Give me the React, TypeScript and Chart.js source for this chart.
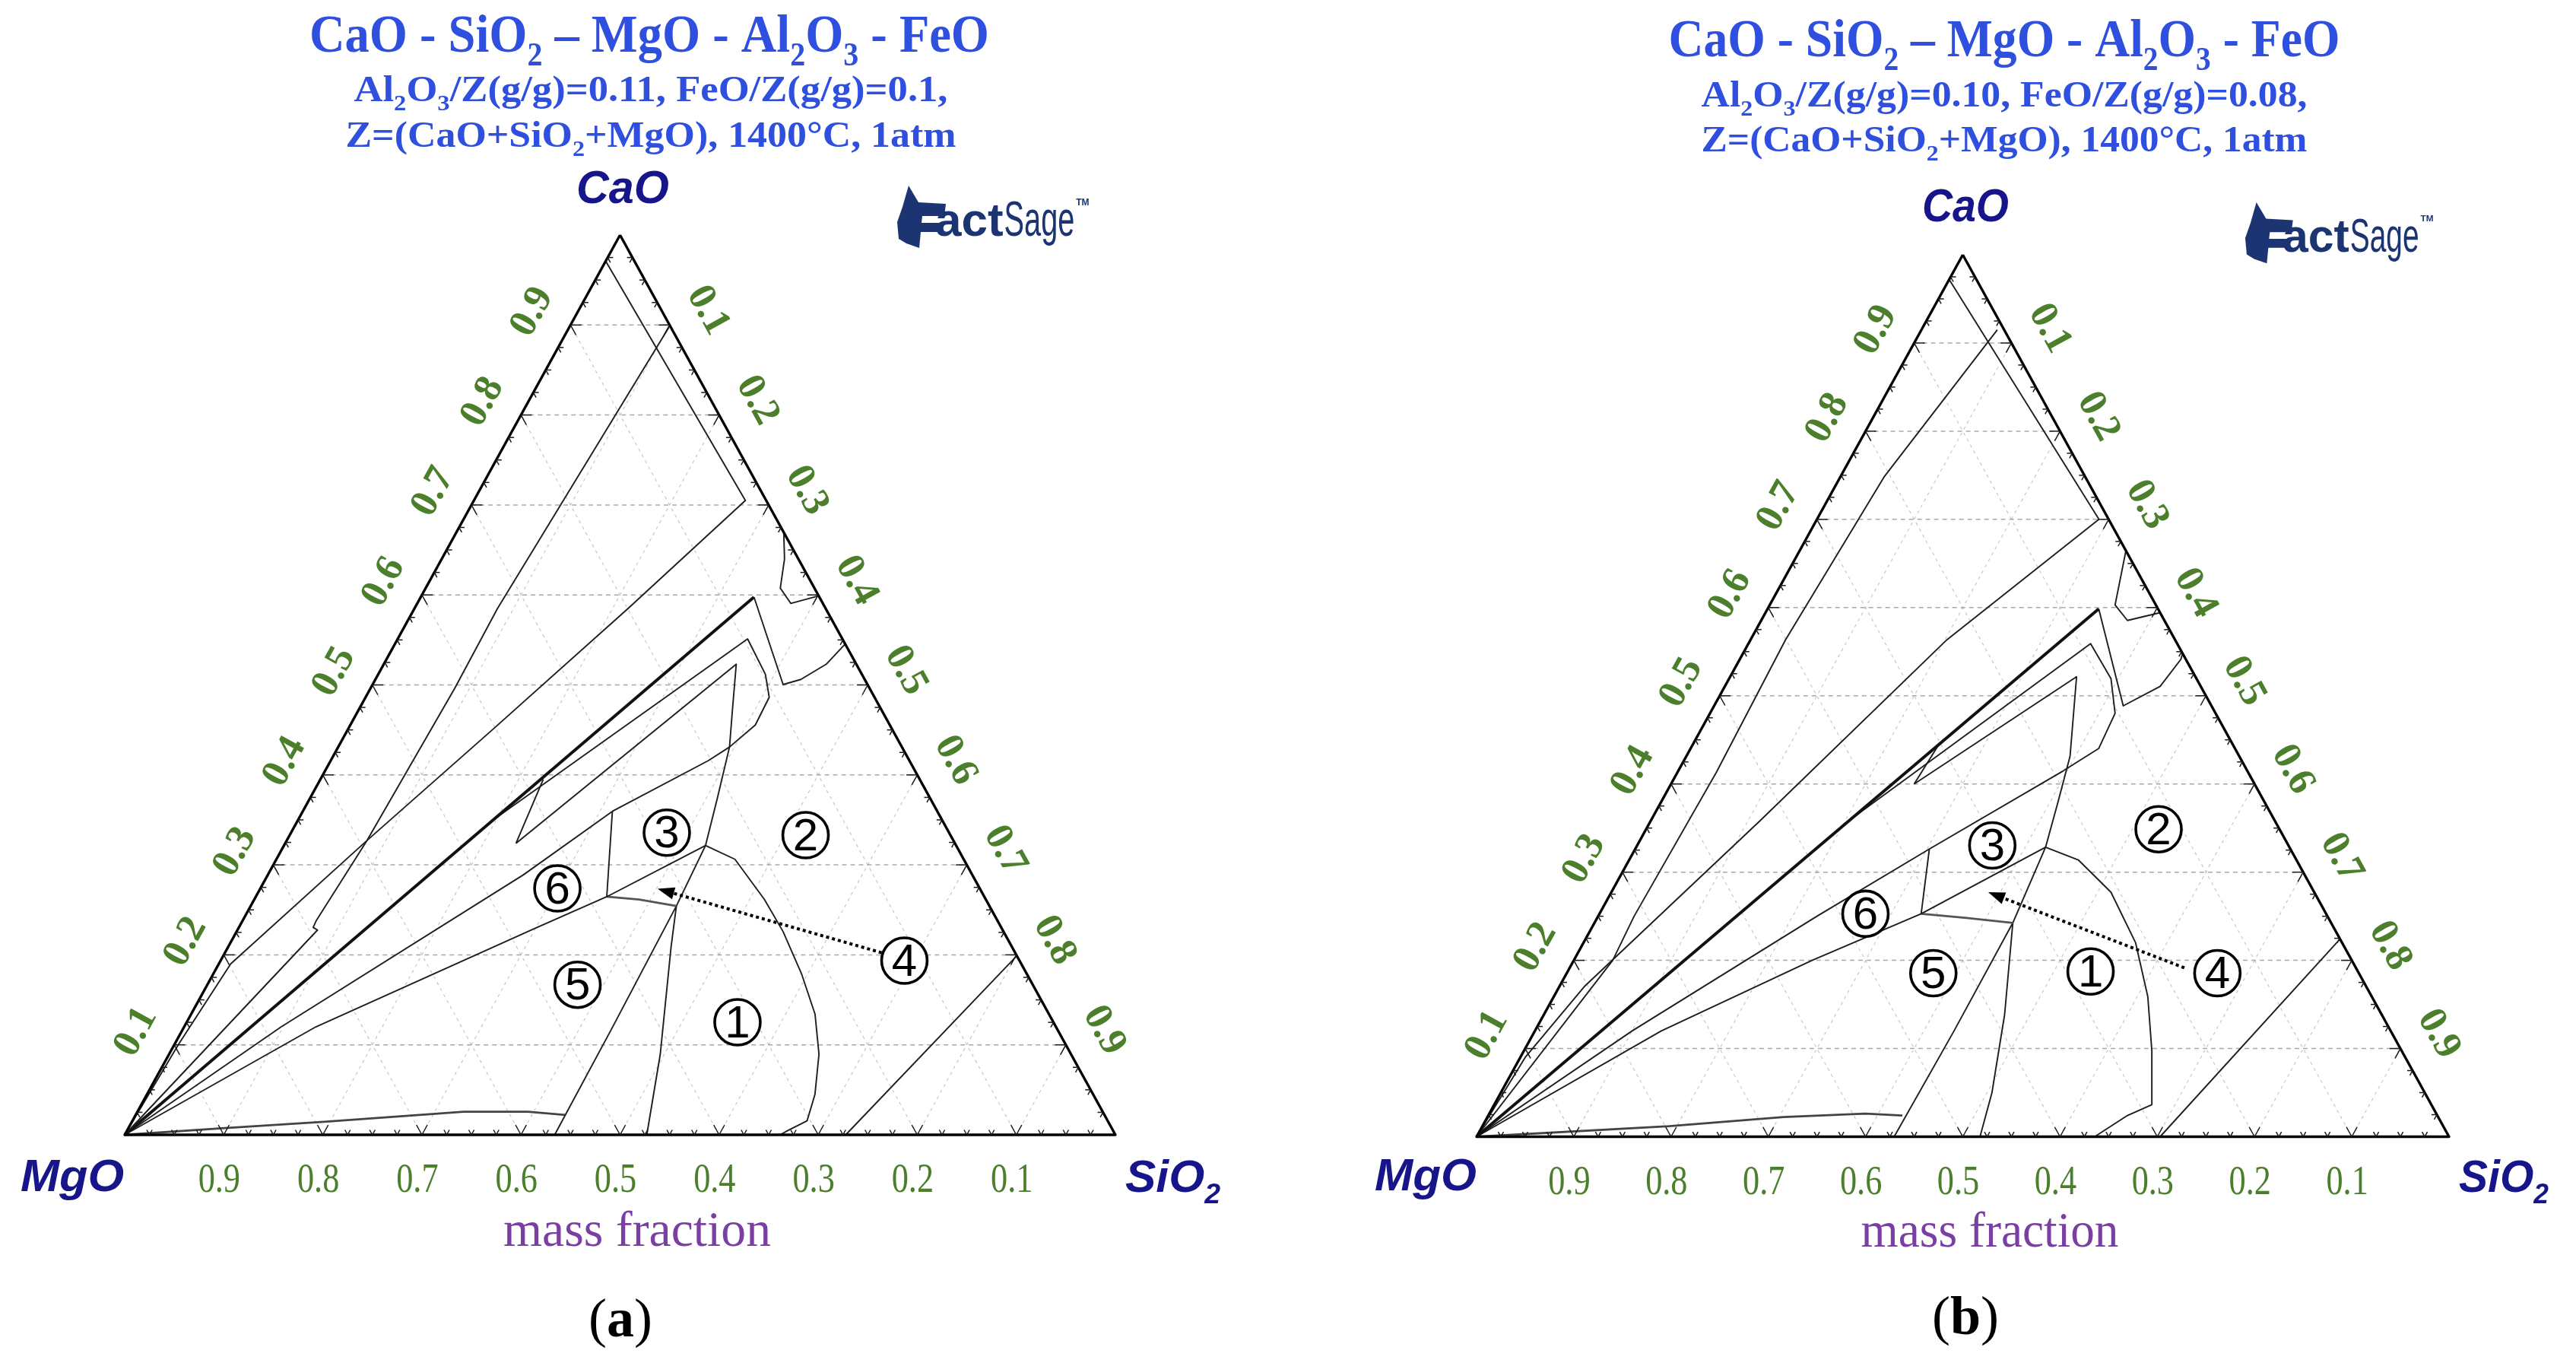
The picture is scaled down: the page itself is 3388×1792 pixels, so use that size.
import React, { useEffect, useRef } from "react";
import { Chart, registerables } from "chart.js";

Chart.register(...registerables);

type P = [number, number]; // [CaO mass fraction, SiO2 mass fraction]

const W = 3388;
const H = 1792;
const HALF = 1694;

const AXIS_TICKS: number[] = [0.1, 0.2, 0.3, 0.4, 0.5, 0.6, 0.7, 0.8, 0.9];
const AXIS_TICK_LABELS: string[] = ["0.1", "0.2", "0.3", "0.4", "0.5", "0.6", "0.7", "0.8", "0.9"];
const REGION_NAMES: string[] = ["1", "2", "3", "4", "5", "6"];

// ---------------- panel (a) ----------------
const A_L1: P[] = [[0.971, 0.0], [0.705, 0.274], [0.585, 0.2156], [0.45, 0.146], [0.327, 0.081], [0.19, 0.012], [0.1, 0.004], [0, 0]];
const A_L2: P[] = [[0.8977, 0.1006], [0.585, 0.0838], [0.496, 0.085], [0.327, 0.081], [0.238, 0.0743], [0.2305, 0.075], [0.2276, 0.0808], [0, 0]];
const A_THICK: P[] = [[0, 0], [0.5976, 0.3364]];
const A_OUTER: P[] = [[0.5976, 0.3364], [0.5004, 0.4144], [0.5061, 0.4295], [0.523, 0.4466], [0.5441, 0.454], [0.547, 0.453]];
const A_SMALL: P[] = [[0.6695, 0.3305], [0.64, 0.346], [0.6075, 0.358], [0.5906, 0.377], [0.599, 0.401]];
const A_MID: P[] = [[0.35, 0.197], [0.5511, 0.3532], [0.5117, 0.3909], [0.4863, 0.4074], [0.4554, 0.4088], [0.431, 0.395]];
const A_INNER: P[] = [[0.324, 0.233], [0.523, 0.3558], [0.4723, 0.3773], [0.431, 0.395], [0.3736, 0.4113], [0.3216, 0.4255]];
const A_SLIVER: P[] = [[0.395, 0.225], [0.324, 0.233]];
const A_R1: P[] = [[0, 0], [0.12, 0.098], [0.289, 0.258], [0.3595, 0.3125], [0.4159, 0.3812], [0.431, 0.395]];
const A_VERT: P[] = [[0.3595, 0.3125], [0.2646, 0.3543]];
const A_R3: P[] = [[0, 0], [0.12, 0.133], [0.2282, 0.2973], [0.2646, 0.3543], [0.3216, 0.4255]];
const A_SHORT: P[] = [[0.2646, 0.3543], [0.2616, 0.3883], [0.2543, 0.4297]];
const A_STA: P[] = [[0.3216, 0.4255], [0.2543, 0.4297], [0.1193, 0.4326], [0, 0.434]];
const A_STB: P[] = [[0.2543, 0.4297], [0.2083, 0.4473], [0.0896, 0.4958], [0, 0.527]];
const A_CURVE: P[] = [[0.3216, 0.4255], [0.3062, 0.4629], [0.2616, 0.5149], [0.226, 0.5515], [0.1786, 0.594], [0.1342, 0.6297], [0.0896, 0.656], [0.0451, 0.6742], [0.0155, 0.681], [0.0045, 0.6667], [0, 0.6616]];
const A_RB: P[] = [[0.199, 0.801], [0, 0.7278]];
const A_BASE: P[] = [[0, 0], [0.0073, 0.0946], [0.0144, 0.194], [0.0214, 0.2786], [0.0256, 0.3295], [0.0256, 0.394], [0.022, 0.4338]];
const A_LABELS: P[] = [[0.1251, 0.556], [0.333, 0.5208], [0.3358, 0.3793], [0.1936, 0.6902], [0.1668, 0.3737], [0.2739, 0.2998]];
const A_ARROW: P[] = [[0.2024, 0.6629], [0.2735, 0.4012]];

// ---------------- panel (b) ----------------
const B_L1: P[] = [[0.972, 0.0], [0.7, 0.29], [0.5637, 0.202], [0.3575, 0.112], [0.171, 0.026], [0.09, 0.005], [0, 0]];
const B_L2: P[] = [[0.915, 0.078], [0.748, 0.045], [0.5636, 0.036], [0.4131, 0.04], [0.25, 0.037], [0.2, 0.04], [0, 0]];
const B_THICK: P[] = [[0, 0], [0.5986, 0.3405]];
const B_OUTER: P[] = [[0.5986, 0.3405], [0.4886, 0.4207], [0.5107, 0.4476], [0.5414, 0.4536], [0.548, 0.452]];
const B_SMALL: P[] = [[0.6645, 0.3355], [0.603, 0.3551], [0.5854, 0.3766], [0.5942, 0.4058]];
const B_MID: P[] = [[0.36, 0.205], [0.559, 0.3519], [0.5194, 0.3927], [0.48, 0.4166], [0.4403, 0.4197], [0.415, 0.396]];
const B_INNER: P[] = [[0.4, 0.25], [0.5216, 0.3562], [0.4314, 0.3946], [0.38, 0.408], [0.3282, 0.421]];
const B_SLIVER: P[] = [[0.445, 0.253], [0.4, 0.25]];
const B_R1: P[] = [[0, 0], [0.12, 0.1], [0.25, 0.225], [0.3262, 0.3025], [0.415, 0.396]];
const B_VERT: P[] = [[0.3262, 0.3025], [0.2528, 0.3308]];
const B_R3: P[] = [[0, 0], [0.12, 0.13], [0.2, 0.245], [0.2528, 0.3308], [0.3282, 0.421]];
const B_SHORT: P[] = [[0.2528, 0.3308], [0.248, 0.38], [0.2425, 0.4302]];
const B_STA: P[] = [[0.3282, 0.421], [0.2425, 0.4302], [0.12, 0.431], [0, 0.4294]];
const B_STB: P[] = [[0.2425, 0.4302], [0.1384, 0.4738], [0.05, 0.505], [0, 0.5177]];
const B_CURVE: P[] = [[0.3282, 0.421], [0.3139, 0.4618], [0.2773, 0.5137], [0.2201, 0.5676], [0.1589, 0.6108], [0.0976, 0.6456], [0.0364, 0.6762], [0.0241, 0.6573], [0, 0.6356]];
const B_RB: P[] = [[0.2242, 0.7758], [0, 0.7029]];
const B_BASE: P[] = [[0, 0], [0.012, 0.192], [0.0223, 0.3046], [0.0262, 0.3868], [0.0241, 0.4258]];
const B_LABELS: P[] = [[0.1874, 0.5377], [0.3487, 0.527], [0.3303, 0.3652], [0.1854, 0.6691], [0.1854, 0.377], [0.2528, 0.2735]];
const B_ARROW: P[] = [[0.1915, 0.6321], [0.2772, 0.3876]];

// ---------------- text ----------------
type Seg = [string, boolean?];
const TITLE1: Seg[] = [["CaO - SiO"], ["2", true], [" \u2013 MgO - Al"], ["2", true], ["O"], ["3", true], [" - FeO"]];
const A_TITLE2: Seg[] = [["Al"], ["2", true], ["O"], ["3", true], ["/Z(g/g)=0.11, FeO/Z(g/g)=0.1,"]];
const B_TITLE2: Seg[] = [["Al"], ["2", true], ["O"], ["3", true], ["/Z(g/g)=0.10, FeO/Z(g/g)=0.08,"]];
const TITLE3: Seg[] = [["Z=(CaO+SiO"], ["2", true], ["+MgO), 1400\u00b0C, 1atm"]];
const CAO: Seg[] = [["CaO"]];
const MGO: Seg[] = [["MgO"]];
const SIO2: Seg[] = [["SiO"], ["2", true]];
const MASS: Seg[] = [["mass fraction"]];

const BLUE = "#2f4fdf";
const NAVY = "#16168a";
const GREEN = "#4b7f2b";
const PURPLE = "#7b3fa4";

const serifB = (sz: number) => `bold ${sz}px "Liberation Serif", serif`;
const serifN = (sz: number) => `${sz}px "Liberation Serif", serif`;
const sansBI = (sz: number) => `italic bold ${sz}px "Liberation Sans", sans-serif`;

interface LineDef { pts: P[]; w: number; color: string; }
interface Box { x: number; y: number; w: number; }
interface PanelCfg {
  tag: string;
  canvasLeft: number;
  mgoX: number; sio2X: number; apexY: number; baseY: number;
  lines: LineDef[];
  labels: P[];
  arrow: P[];
  title2: Seg[];
  t1: Box; t2: Box; t3: Box; cao: Box; mgo: Box; sio2: Box; mass: Box; tagPos: Box;
  logo: { x: number; y: number; s: number };
}

const thin = (pts: P[]): LineDef => ({ pts, w: 1.9, color: "#1e1e1e" });

const PANEL_A: PanelCfg = {
  tag: "a", canvasLeft: 0,
  mgoX: 164, sio2X: 1467, apexY: 309, baseY: 1492,
  lines: [
    thin(A_L1), thin(A_L2), { pts: A_THICK, w: 4, color: "#111" }, thin(A_OUTER), thin(A_SMALL), thin(A_MID),
    thin(A_INNER), thin(A_SLIVER), thin(A_R1), thin(A_VERT), thin(A_R3), { pts: A_SHORT, w: 2.8, color: "#555" },
    thin(A_STA), thin(A_STB), thin(A_CURVE), thin(A_RB), { pts: A_BASE, w: 2.8, color: "#444" },
  ],
  labels: A_LABELS, arrow: A_ARROW, title2: A_TITLE2,
  t1: { x: 854, y: 68, w: 894 }, t2: { x: 856, y: 133, w: 781 }, t3: { x: 856, y: 193, w: 803 },
  cao: { x: 819, y: 267, w: 122 }, mgo: { x: 95, y: 1566, w: 136 }, sio2: { x: 1480, y: 1567, w: 125 },
  mass: { x: 838, y: 1638, w: 352 }, tagPos: { x: 816, y: 1757, w: 92 },
  logo: { x: 1178, y: 242, s: 1 },
};

const PANEL_B: PanelCfg = {
  tag: "b", canvasLeft: HALF,
  mgoX: 1942, sio2X: 3221, apexY: 335, baseY: 1494.5,
  lines: [
    thin(B_L1), thin(B_L2), { pts: B_THICK, w: 4, color: "#111" }, thin(B_OUTER), thin(B_SMALL), thin(B_MID),
    thin(B_INNER), thin(B_SLIVER), thin(B_R1), thin(B_VERT), thin(B_R3), { pts: B_SHORT, w: 2.8, color: "#555" },
    thin(B_STA), thin(B_STB), thin(B_CURVE), thin(B_RB), { pts: B_BASE, w: 2.8, color: "#444" },
  ],
  labels: B_LABELS, arrow: B_ARROW, title2: B_TITLE2,
  t1: { x: 2636, y: 74, w: 883 }, t2: { x: 2636, y: 140, w: 797 }, t3: { x: 2636, y: 199, w: 797 },
  cao: { x: 2585, y: 291, w: 114 }, mgo: { x: 1875, y: 1565, w: 134 }, sio2: { x: 3234, y: 1567, w: 118 },
  mass: { x: 2617, y: 1639, w: 339 }, tagPos: { x: 2585, y: 1754, w: 100 },
  logo: { x: 2951, y: 264, s: 0.98 },
};

function drawRich(ctx: CanvasRenderingContext2D, segs: Seg[], x: number, y: number, size: number,
  font: (sz: number) => string, color: string, targetW: number | null, align: "center" | "left") {
  ctx.save();
  ctx.fillStyle = color;
  ctx.textBaseline = "alphabetic";
  ctx.textAlign = "left";
  const ws: number[] = [];
  let w = 0;
  for (const [t, sub] of segs) {
    ctx.font = font(sub ? size * 0.62 : size);
    const m = ctx.measureText(t).width;
    ws.push(m);
    w += m;
  }
  const sx = targetW ? targetW / w : 1;
  ctx.translate(x, y);
  ctx.scale(sx, 1);
  let cx = align === "center" ? -w / 2 : 0;
  segs.forEach(([t, sub], i) => {
    ctx.font = font(sub ? size * 0.62 : size);
    ctx.fillText(t, cx, sub ? size * 0.25 : 0);
    cx += ws[i];
  });
  ctx.restore();
}

function drawLogo(ctx: CanvasRenderingContext2D, x: number, y: number, s: number) {
  ctx.save();
  ctx.translate(x, y);
  ctx.scale(s, s);
  ctx.fillStyle = "#1c3572";
  ctx.beginPath();
  ctx.moveTo(4, 72); ctx.lineTo(2, 50); ctx.lineTo(9, 30); ctx.lineTo(17, 2); ctx.lineTo(30, 24);
  ctx.lineTo(66, 26); ctx.lineTo(64, 42); ctx.lineTo(35, 42); ctx.lineTo(34, 51); ctx.lineTo(58, 51);
  ctx.lineTo(56, 63); ctx.lineTo(33, 63); ctx.lineTo(31, 84); ctx.lineTo(14, 78);
  ctx.closePath();
  ctx.fill();
  ctx.textBaseline = "alphabetic";
  ctx.textAlign = "left";
  ctx.font = 'bold 62px "Liberation Sans", sans-serif';
  ctx.fillText("act", 52, 68);
  const wAct = ctx.measureText("act").width;
  ctx.save();
  ctx.translate(52 + wAct + 1, 68);
  ctx.scale(0.62, 1);
  ctx.font = '64px "Liberation Sans", sans-serif';
  ctx.fillText("Sage", 0, 0);
  const wS = ctx.measureText("Sage").width * 0.62;
  ctx.restore();
  ctx.font = 'bold 12px "Liberation Sans", sans-serif';
  ctx.fillText("TM", 52 + wAct + wS + 3, 28);
  ctx.restore();
}

function buildDatasets(cfg: PanelCfg) {
  const ds: any[] = [];
  const toXY = (p: P) => ({ x: p[1] + p[0] / 2, y: p[0] });
  const add = (pts: P[], color: string, w: number, dash: number[], order: number) =>
    ds.push({
      data: pts.map(toXY), showLine: true, borderColor: color, borderWidth: w, borderDash: dash,
      pointRadius: 0, pointHoverRadius: 0, fill: false, tension: 0, clip: false, order,
      borderJoinStyle: "round", borderCapStyle: "butt",
    });
  for (const v of AXIS_TICKS) {
    add([[v, 0], [v, 1 - v]], "rgba(140,140,140,0.75)", 1.5, [6, 5], 3);
    add([[0, v], [1 - v, v]], "rgba(160,160,160,0.6)", 1.2, [4, 5], 3);
    add([[0, 1 - v], [1 - v, 0]], "rgba(160,160,160,0.6)", 1.2, [4, 5], 3);
  }
  cfg.lines.forEach((l) => add(l.pts, l.color, l.w, [], 2));
  add([[1, 0], [0, 0], [0, 1], [1, 0]], "#000", 3.4, [], 1);
  return ds;
}

function makeDeco(cfg: PanelCfg) {
  return {
    id: "deco_" + cfg.tag,
    afterDatasetsDraw(chart: any) {
      const ctx: CanvasRenderingContext2D = chart.ctx;
      const xs = chart.scales.x;
      const ys = chart.scales.y;
      const pt = (c: number, s: number): [number, number] => [xs.getPixelForValue(s + c / 2), ys.getPixelForValue(c)];
      // edge ticks
      ctx.save();
      ctx.strokeStyle = "#1a1a1a";
      ctx.lineWidth = 1.5;
      const seg = (c: number, s: number, dc: number, dd: number) => {
        const a = pt(c, s);
        const b = pt(c + dc, s + dd);
        ctx.beginPath();
        ctx.moveTo(a[0], a[1]);
        ctx.lineTo(b[0], b[1]);
        ctx.stroke();
      };
      for (let k = 1; k < 40; k++) {
        const t = k / 40;
        const L = k % 4 === 0 ? 0.011 : 0.0055;
        seg(0, t, L, 0); seg(0, t, L, -L);
        seg(t, 0, 0, L); seg(t, 0, -L, L);
        seg(t, 1 - t, 0, -L); seg(t, 1 - t, -L, 0);
      }
      ctx.restore();
      // arrow
      const [tx, ty] = pt(cfg.arrow[0][0], cfg.arrow[0][1]);
      const [hx, hy] = pt(cfg.arrow[1][0], cfg.arrow[1][1]);
      const ang = Math.atan2(hy - ty, hx - tx);
      const hl = 22, hw = 8;
      const bx = hx - hl * Math.cos(ang), by = hy - hl * Math.sin(ang);
      ctx.save();
      ctx.strokeStyle = "#000";
      ctx.lineWidth = 4;
      ctx.setLineDash([4, 4]);
      ctx.beginPath();
      ctx.moveTo(tx, ty);
      ctx.lineTo(bx, by);
      ctx.stroke();
      ctx.setLineDash([]);
      ctx.fillStyle = "#000";
      ctx.beginPath();
      ctx.moveTo(hx, hy);
      ctx.lineTo(bx + hw * Math.sin(ang), by - hw * Math.cos(ang));
      ctx.lineTo(bx - hw * Math.sin(ang), by + hw * Math.cos(ang));
      ctx.closePath();
      ctx.fill();
      ctx.restore();
      // circled region numbers
      ctx.save();
      cfg.labels.forEach((p, i) => {
        const [x, y] = pt(p[0], p[1]);
        ctx.beginPath();
        ctx.arc(x, y, 30, 0, Math.PI * 2);
        ctx.fillStyle = "#fff";
        ctx.fill();
        ctx.lineWidth = 3.6;
        ctx.strokeStyle = "#000";
        ctx.stroke();
        ctx.fillStyle = "#000";
        ctx.font = '60px "Liberation Sans", sans-serif';
        ctx.textAlign = "center";
        ctx.textBaseline = "middle";
        ctx.fillText(REGION_NAMES[i], x, y + 3);
      });
      ctx.restore();
    },
    afterDraw(chart: any) {
      const ctx: CanvasRenderingContext2D = chart.ctx;
      const xs = chart.scales.x;
      const ys = chart.scales.y;
      const pt = (c: number, s: number): [number, number] => [xs.getPixelForValue(s + c / 2), ys.getPixelForValue(c)];
      const L = cfg.canvasLeft;
      drawRich(ctx, TITLE1, cfg.t1.x - L, cfg.t1.y, 70, serifB, BLUE, cfg.t1.w, "center");
      drawRich(ctx, cfg.title2, cfg.t2.x - L, cfg.t2.y, 48, serifB, BLUE, cfg.t2.w, "center");
      drawRich(ctx, TITLE3, cfg.t3.x - L, cfg.t3.y, 48, serifB, BLUE, cfg.t3.w, "center");
      drawRich(ctx, CAO, cfg.cao.x - L, cfg.cao.y, 62, sansBI, NAVY, cfg.cao.w, "center");
      drawRich(ctx, MGO, cfg.mgo.x - L, cfg.mgo.y, 60, sansBI, NAVY, cfg.mgo.w, "center");
      drawRich(ctx, SIO2, cfg.sio2.x - L, cfg.sio2.y, 60, sansBI, NAVY, cfg.sio2.w, "left");
      drawRich(ctx, MASS, cfg.mass.x - L, cfg.mass.y, 66, serifN, PURPLE, cfg.mass.w, "center");
      // tag (a)/(b)
      ctx.save();
      ctx.fillStyle = "#000";
      ctx.textBaseline = "alphabetic";
      ctx.textAlign = "left";
      ctx.font = serifN(72);
      const wp = ctx.measureText("(").width;
      ctx.font = serifB(72);
      const wt = ctx.measureText(cfg.tag).width;
      const x0 = cfg.tagPos.x - L - (2 * wp + wt) / 2;
      ctx.font = serifN(72);
      ctx.fillText("(", x0, cfg.tagPos.y);
      ctx.font = serifB(72);
      ctx.fillText(cfg.tag, x0 + wp, cfg.tagPos.y);
      ctx.font = serifN(72);
      ctx.fillText(")", x0 + wp + wt, cfg.tagPos.y);
      ctx.restore();
      // axis tick labels
      const apex = pt(1, 0), mg = pt(0, 0), si = pt(0, 1);
      const angL = Math.atan2(apex[1] - mg[1], apex[0] - mg[0]);
      const angR = Math.atan2(si[1] - apex[1], si[0] - apex[0]);
      ctx.save();
      ctx.fillStyle = GREEN;
      ctx.textAlign = "center";
      ctx.textBaseline = "middle";
      AXIS_TICKS.forEach((v, i) => {
        const lab = AXIS_TICK_LABELS[i];
        // left edge: CaO
        const pl = pt(v, 0);
        ctx.save();
        ctx.translate(pl[0] - 50, pl[1] - 17);
        ctx.rotate(angL);
        ctx.font = serifB(52);
        ctx.fillText(lab, 0, 0);
        ctx.restore();
        // right edge: SiO2
        const pr = pt(1 - v, v);
        ctx.save();
        ctx.translate(pr[0] + 50, pr[1] - 19);
        ctx.rotate(angR);
        ctx.font = serifB(52);
        ctx.fillText(lab, 0, 0);
        ctx.restore();
        // bottom edge: MgO
        const pb = pt(0, 1 - v);
        ctx.save();
        ctx.textBaseline = "alphabetic";
        ctx.translate(pb[0] - 6, pb[1] + 75);
        ctx.scale(0.82, 1);
        ctx.font = serifN(54);
        ctx.fillText(lab, 0, 0);
        ctx.restore();
      });
      ctx.restore();
      drawLogo(ctx, cfg.logo.x - L, cfg.logo.y, cfg.logo.s);
    },
  };
}

function TernaryCanvas({ cfg }: { cfg: PanelCfg }) {
  const ref = useRef<HTMLCanvasElement | null>(null);
  useEffect(() => {
    const canvas = ref.current;
    if (!canvas) return;
    const chart = new Chart(canvas, {
      type: "scatter",
      data: { datasets: buildDatasets(cfg) },
      options: {
        animation: false,
        responsive: false,
        maintainAspectRatio: false,
        devicePixelRatio: 1,
        events: [],
        layout: {
          padding: {
            left: cfg.mgoX - cfg.canvasLeft,
            right: cfg.canvasLeft + HALF - cfg.sio2X,
            top: cfg.apexY,
            bottom: H - cfg.baseY,
          },
        },
        scales: {
          x: { type: "linear", min: 0, max: 1, display: false },
          y: { type: "linear", min: 0, max: 1, display: false },
        },
        plugins: { legend: { display: false }, tooltip: { enabled: false }, title: { display: false } },
      } as any,
      plugins: [makeDeco(cfg)],
    });
    return () => chart.destroy();
  }, [cfg]);
  return (
    <canvas
      ref={ref}
      width={HALF}
      height={H}
      style={{ position: "absolute", left: cfg.canvasLeft, top: 0, width: HALF, height: H }}
    />
  );
}

export default function App() {
  return (
    <div style={{ position: "fixed", left: 0, top: 0, width: W, height: H, background: "#fff", overflow: "hidden" }}>
      <TernaryCanvas cfg={PANEL_A} />
      <TernaryCanvas cfg={PANEL_B} />
    </div>
  );
}
